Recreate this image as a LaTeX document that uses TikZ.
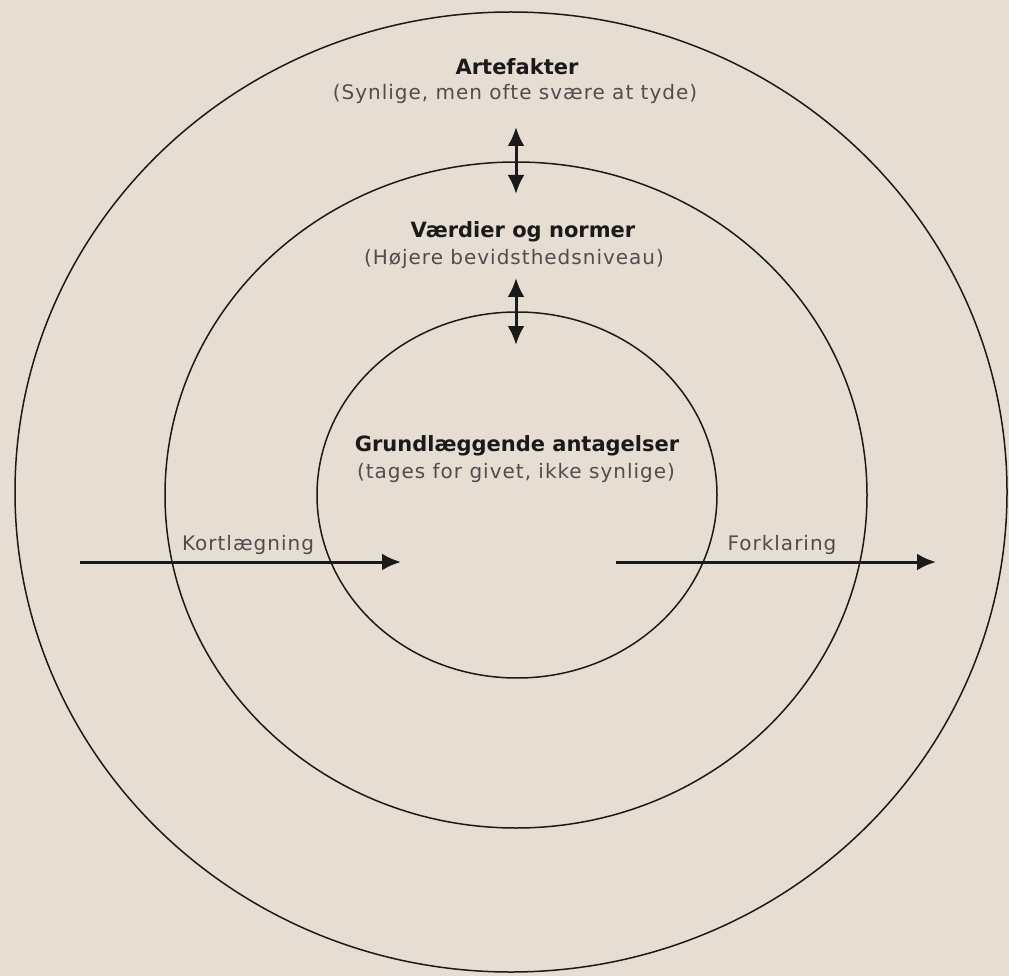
\documentclass[tikz,border=0pt]{standalone}
\usepackage{fontspec}
\setmainfont{DejaVu Sans}
\newfontfamily\widefont[LetterSpace=5]{DejaVu Sans}
\usetikzlibrary{arrows.meta}
\definecolor{bg}{HTML}{E7DED3}
\definecolor{ink}{HTML}{1A1A1A}
\definecolor{soft}{HTML}{4E4E4E}

\begin{document}
\begin{tikzpicture}[x=1pt,y=-1pt,
    ring/.style={draw=ink, line width=1.5pt},
    title/.style={text=ink, font=\fontsize{21}{25}\selectfont\bfseries, inner sep=0pt},
    sub/.style={text=soft, font=\widefont\fontsize{20}{24}\selectfont, inner sep=0pt},
    tag/.style={text=soft, font=\widefont\fontsize{20}{24}\selectfont, inner sep=0pt},
    both/.style={draw=ink, line width=3pt, {Latex[length=19pt,width=17pt]}-{Latex[length=19pt,width=17pt]}},
    push/.style={draw=ink, line width=3pt, -{Latex[length=19pt,width=17pt]}}]
        \fill[bg] (0,0) rectangle (1009,976);
        \useasboundingbox (0,0) rectangle (1009,976);
        % rings
        \draw[ring] (511,492) ellipse [x radius=496, y radius=480];
        \draw[ring] (516,495) ellipse [x radius=351, y radius=333];
        \draw[ring] (517,495) ellipse [x radius=200, y radius=183];
        % labels
        \node[title](art) at (517,67) {Artefakter};
        \node[sub](artsub) at (515,94) {(Synlige, men ofte svære at tyde)};
        \node[title](vaerdi) at (523,232) {Værdier og normer};
        \node[sub](vaerdisub) at (514,259) {(Højere bevidsthedsniveau)};
        \node[title](grund) at (517,446) {Grundlæggende antagelser};
        \node[sub](grundsub) at (516,473) {(tages for givet, ikke synlige)};
        \node[tag](kort) at (248,545) {Kortlægning};
        \node[tag](fork) at (782,545) {Forklaring};
        % arrows
        \coordinate(a1) at (516,127);
        \coordinate(a2) at (516,194);
        \coordinate(b1) at (516,278);
        \coordinate(b2) at (516,345);
        \coordinate(k1) at (80,562);
        \coordinate(k2) at (401,562);
        \coordinate(f1) at (616,562);
        \coordinate(f2) at (936,562);
        \draw[both](a1)--(a2);
        \draw[both](b1)--(b2);
        \draw[push](k1)--(k2);
        \draw[push](f1)--(f2);
\end{tikzpicture}
\end{document}
